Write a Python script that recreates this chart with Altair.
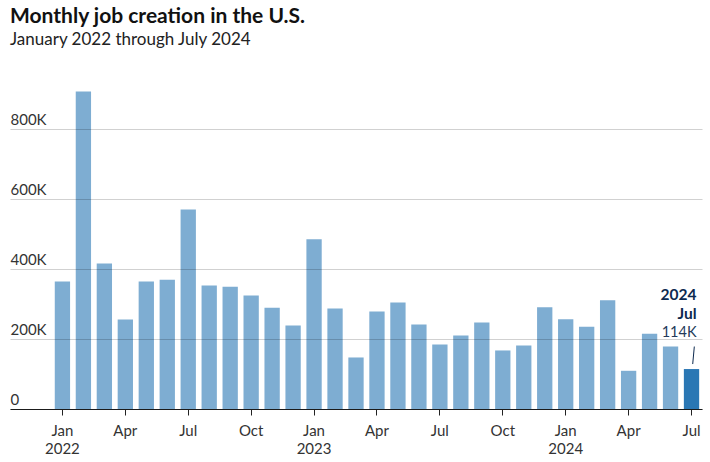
import altair as alt
import pandas as pd

months = [
    "2022-01", "2022-02", "2022-03", "2022-04", "2022-05", "2022-06",
    "2022-07", "2022-08", "2022-09", "2022-10", "2022-11", "2022-12",
    "2023-01", "2023-02", "2023-03", "2023-04", "2023-05", "2023-06",
    "2023-07", "2023-08", "2023-09", "2023-10", "2023-11", "2023-12",
    "2024-01", "2024-02", "2024-03", "2024-04", "2024-05", "2024-06",
    "2024-07",
]
jobs_k = [
    364, 906, 415, 255, 364, 369, 569, 352, 349, 324, 289, 238,
    484, 287, 147, 278, 304, 241, 184, 210, 247, 167, 181, 290,
    256, 235, 310, 109, 215, 178, 114,
]
highlight = ["other"] * 30 + ["latest"]
lead_months = ["2021-11", "2021-12"]
tick_months = ["2022-01", "2022-04", "2022-07", "2022-10", "2023-01", "2023-04",
               "2023-07", "2023-10", "2024-01", "2024-04", "2024-07"]
y_ticks = [0, 200, 400, 600, 800]

annot_month = ["2024-07"]
annot_value = [114]
annot_year = ["2024"]
annot_mon = ["Jul"]
annot_val = ["114K"]

df = pd.DataFrame({"month": months, "jobs": jobs_k, "hl": highlight})
ann = pd.DataFrame({"month": annot_month, "jobs": annot_value,
                    "yr": annot_year, "mo": annot_mon, "val": annot_val})

FONT = "Lato"
NAVY = "#0d2a4f"

label_expr = ("slice(datum.value,5)=='01' ? ['Jan', slice(datum.value,0,4)] : "
              "slice(datum.value,5)=='04' ? 'Apr' : "
              "slice(datum.value,5)=='07' ? 'Jul' : 'Oct'")

x = alt.X("month:N",
          scale=alt.Scale(domain=lead_months + months, paddingInner=0.27, paddingOuter=0.135),
          axis=alt.Axis(values=tick_months, labelExpr=label_expr, title=None, labelAngle=0,
                        domainColor="#222", tickColor="#222", tickSize=6,
                        labelPadding=8, labelFontSize=15, labelFont=FONT,
                        labelColor="#333", labelLineHeight=18, grid=False))
y = alt.Y("jobs:Q",
          scale=alt.Scale(domain=[0, 950], nice=False),
          axis=alt.Axis(values=y_ticks, title=None, domain=False, ticks=False,
                        labelAlign="left", labelBaseline="alphabetic", labelPadding=0,
                        labelOffset=-4.5, labelFontSize=15, labelFont=FONT, labelColor="#333",
                        labelExpr="datum.value == 0 ? '0' : datum.value + 'K'",
                        grid=True, gridColor="#000", gridOpacity=0.18, zindex=1))

bars = alt.Chart(df).mark_bar().encode(
    x=x, y=y,
    color=alt.Color("hl:N", scale=alt.Scale(domain=["other", "latest"],
                                            range=["#7eadd2", "#2a77b4"]), legend=None),
)

base = alt.Chart(ann).encode(x=alt.X("month:N"), y=alt.Y("jobs:Q"))
t1 = base.mark_text(align="right", baseline="alphabetic", dx=5, dy=-69, font=FONT,
                    fontSize=15.5, fontWeight="bold", color=NAVY).encode(text="yr:N")
t2 = base.mark_text(align="right", baseline="alphabetic", dx=5, dy=-50, font=FONT,
                    fontSize=15.5, fontWeight="bold", color=NAVY).encode(text="mo:N")
t3 = base.mark_text(align="right", baseline="alphabetic", dx=5, dy=-32.5, font=FONT,
                    fontSize=14.5, color="#243a5a").encode(text="val:N")
lead = alt.Chart(ann).mark_rule(color=NAVY, strokeWidth=1, xOffset=1.2, x2Offset=2.8,
                                yOffset=-5, y2Offset=-22.5).encode(
    x=alt.X("month:N"), x2=alt.X2("month:N"), y=alt.Y("jobs:Q"), y2=alt.Y2("jobs:Q"))

chart = alt.layer(bars, lead, t1, t2, t3).properties(
    width=692, height=333,
    title=alt.TitleParams(text="Monthly job creation in the U.S.",
                          subtitle="January 2022 through July 2024",
                          anchor="start", frame="group", font=FONT, fontSize=21,
                          fontWeight="bold", color="#111", subtitleFont=FONT,
                          subtitleFontSize=17, subtitleColor="#222", subtitlePadding=5,
                          offset=28),
    autosize=alt.AutoSizeParams(type="none"),
    padding={"left": 10, "top": 76, "right": 8, "bottom": 53},
).configure_view(stroke=None)

chart.save("out.html", embed_options={"renderer": "svg", "actions": False})
